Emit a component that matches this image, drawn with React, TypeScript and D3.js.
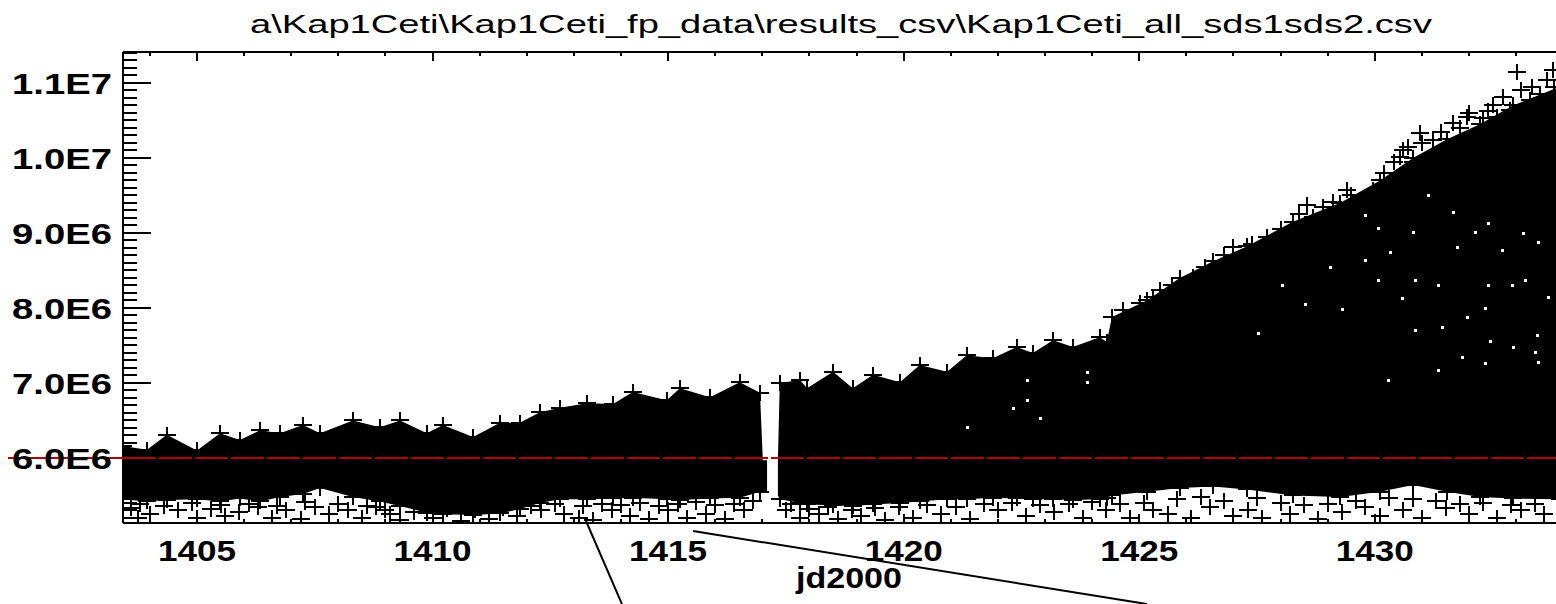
import React, { useEffect, useRef } from 'react';
import * as d3 from 'd3';

const W = 1556;
const H = 604;

const title = 'a\\Kap1Ceti\\Kap1Ceti_fp_data\\results_csv\\Kap1Ceti_all_sds1sds2.csv';
const xLabel = 'jd2000';

// all flux values in units of 1e6
const xTicks = [1405, 1410, 1415, 1420, 1425, 1430];
const yTicks = [6, 7, 8, 9, 10, 11];
const yTickLabels = ['6.0E6', '7.0E6', '8.0E6', '9.0E6', '1.0E7', '1.1E7'];
const refLevel = 6.0;

// envelope of the dense cloud, before the gap near jd 1417.2
const leftJd = [1403.43, 1403.94, 1404.36, 1405.0, 1405.49, 1405.91, 1406.34, 1406.76, 1407.25, 1407.61, 1408.31, 1408.88, 1409.31, 1409.88, 1410.22, 1410.86, 1411.43, 1411.85, 1412.28, 1412.7, 1413.28, 1413.83, 1414.25, 1414.97, 1415.25, 1415.89, 1416.52, 1416.95, 1417.01, 1417.1];
const leftHi = [6.16, 6.11, 6.31, 6.1, 6.33, 6.24, 6.37, 6.33, 6.44, 6.33, 6.5, 6.41, 6.5, 6.33, 6.44, 6.28, 6.47, 6.47, 6.61, 6.67, 6.73, 6.72, 6.88, 6.77, 6.93, 6.81, 7.01, 6.87, 5.97, 5.97];
const leftLo = [5.45, 5.42, 5.44, 5.45, 5.42, 5.46, 5.42, 5.48, 5.52, 5.6, 5.48, 5.42, 5.36, 5.27, 5.25, 5.24, 5.26, 5.32, 5.4, 5.45, 5.45, 5.46, 5.47, 5.45, 5.44, 5.46, 5.47, 5.55, 5.55, 5.55];

// envelope after the gap
const rightJd = [1417.33, 1417.37, 1417.8, 1417.95, 1418.5, 1418.92, 1419.35, 1419.92, 1420.34, 1420.92, 1421.34, 1421.89, 1422.4, 1422.74, 1423.17, 1423.59, 1424.16, 1424.31, 1424.42, 1425.16, 1425.86, 1426.56, 1427.28, 1428.26, 1429.26, 1430.11, 1430.81, 1431.53, 1432.23, 1432.93, 1433.93];
const rightHi = [5.97, 7.0, 7.04, 6.93, 7.15, 6.93, 7.11, 7.01, 7.24, 7.15, 7.37, 7.33, 7.48, 7.4, 7.57, 7.48, 7.61, 7.55, 7.88, 8.1, 8.4, 8.62, 8.82, 9.15, 9.4, 9.7, 10.0, 10.25, 10.45, 10.7, 10.95];
const rightLo = [5.5, 5.45, 5.4, 5.38, 5.37, 5.36, 5.38, 5.4, 5.42, 5.45, 5.45, 5.47, 5.46, 5.45, 5.45, 5.44, 5.45, 5.47, 5.5, 5.55, 5.6, 5.62, 5.58, 5.5, 5.48, 5.55, 5.64, 5.55, 5.48, 5.46, 5.45];

// low outliers near the bottom axis
const lowJd = [1403.6, 1403.75, 1404.0, 1404.6, 1405.0, 1405.3, 1405.6, 1405.9, 1406.3, 1406.6, 1406.9, 1407.2, 1407.5, 1407.8, 1408.2, 1408.5, 1408.8, 1409.1, 1409.3, 1410.0, 1410.6, 1411.2, 1411.8, 1412.3, 1412.8, 1413.1, 1413.4, 1413.8, 1414.2, 1414.6, 1415.0, 1415.4, 1415.8, 1416.2, 1416.6, 1417.5, 1417.8, 1418.2, 1418.6, 1419.1, 1419.6, 1420.2, 1420.8, 1421.4, 1422.0, 1422.6, 1423.2, 1423.8, 1424.3, 1424.8, 1425.3, 1425.6, 1426.1, 1426.5, 1427.0, 1427.3, 1427.6, 1428.2, 1428.8, 1429.3, 1429.8, 1430.1, 1430.6, 1431.0, 1431.5, 1432.0, 1432.6, 1433.1, 1433.6];
const lowVal = [5.33, 5.2, 5.25, 5.3, 5.2, 5.32, 5.22, 5.28, 5.35, 5.2, 5.3, 5.18, 5.35, 5.25, 5.3, 5.2, 5.35, 5.25, 5.17, 5.2, 5.16, 5.18, 5.22, 5.3, 5.25, 5.2, 5.17, 5.3, 5.22, 5.18, 5.3, 5.2, 5.25, 5.19, 5.3, 5.3, 5.2, 5.25, 5.18, 5.22, 5.17, 5.2, 5.25, 5.18, 5.3, 5.22, 5.28, 5.2, 5.3, 5.2, 5.3, 5.25, 5.2, 5.35, 5.22, 5.3, 5.2, 5.25, 5.18, 5.28, 5.35, 5.22, 5.3, 5.2, 5.33, 5.25, 5.2, 5.3, 5.25];

// second band of low points just under the cloud
const lowJd2 = [1403.8, 1404.3, 1404.9, 1405.5, 1406.1, 1406.7, 1407.3, 1408.0, 1408.6, 1409.0, 1409.6, 1410.3, 1410.9, 1411.5, 1412.1, 1412.6, 1413.2, 1413.6, 1414.0, 1414.4, 1414.8, 1415.2, 1415.6, 1416.0, 1416.4, 1416.8, 1417.6, 1418.0, 1418.4, 1418.9, 1419.4, 1419.9, 1420.5, 1421.1, 1421.7, 1422.3, 1422.9, 1423.5, 1424.0, 1424.6, 1425.1, 1425.8, 1426.3, 1426.8, 1427.5, 1428.0, 1428.5, 1429.0, 1429.6, 1430.3, 1430.8, 1431.3, 1431.8, 1432.3, 1432.9, 1433.4];
const lowVal2 = [5.38, 5.36, 5.4, 5.37, 5.39, 5.36, 5.41, 5.38, 5.36, 5.3, 5.28, 5.32, 5.3, 5.33, 5.36, 5.38, 5.36, 5.39, 5.37, 5.4, 5.36, 5.38, 5.41, 5.37, 5.39, 5.42, 5.38, 5.32, 5.34, 5.3, 5.33, 5.35, 5.37, 5.34, 5.38, 5.4, 5.37, 5.39, 5.41, 5.38, 5.4, 5.45, 5.48, 5.42, 5.46, 5.4, 5.37, 5.39, 5.42, 5.47, 5.45, 5.42, 5.38, 5.4, 5.37, 5.39];

// scattered high points on the rising edge
const highJd = [1424.65, 1425.01, 1425.44, 1426.14, 1426.99, 1427.71, 1428.56, 1428.68, 1429.11, 1429.41, 1429.96, 1430.53, 1430.59, 1430.81, 1430.95, 1431.23, 1431.66, 1431.95, 1432.29, 1432.5, 1432.72, 1432.87, 1433.01, 1433.29, 1433.33, 1433.65, 1433.78];
const highVal = [7.97, 8.07, 8.24, 8.41, 8.81, 8.95, 9.37, 9.21, 9.41, 9.57, 9.57, 10.01, 10.11, 9.95, 10.33, 10.24, 10.47, 10.55, 10.53, 10.71, 10.81, 10.64, 11.15, 10.77, 10.95, 11.04, 11.17];

// denser fringe just above the solid part of the rising edge
const highJd2 = [1425.3, 1425.7, 1426.4, 1426.8, 1427.4, 1428.0, 1428.4, 1428.9, 1429.5, 1429.8, 1430.2, 1430.4, 1430.7, 1431.0, 1431.4, 1431.8, 1432.0, 1432.4, 1432.6, 1433.1, 1433.5, 1433.8];
const highVal2 = [8.15, 8.3, 8.55, 8.7, 8.85, 9.05, 9.25, 9.35, 9.5, 9.45, 9.8, 9.95, 10.15, 10.2, 10.35, 10.4, 10.6, 10.62, 10.55, 10.9, 10.85, 10.95];

// empty spots inside the cloud
const holeJd = [1429.79, 1430.06, 1430.32, 1430.81, 1431.12, 1431.66, 1432.12, 1432.4, 1431.74, 1432.7, 1433.14, 1433.46, 1430.06, 1430.85, 1431.34, 1432.4, 1432.91, 1433.18, 1430.57, 1432.33, 1431.95, 1430.85, 1431.42, 1427.52, 1428.51, 1429.3, 1428.03, 1429.79, 1429.04, 1433.67, 1433.44, 1431.85, 1432.33, 1431.34, 1430.28, 1433.4, 1433.46, 1432.93, 1432.44, 1423.89, 1423.89, 1421.34, 1422.32, 1422.61, 1422.61, 1422.89];
const holeVal = [9.24, 9.07, 8.75, 9.01, 9.51, 9.28, 9.01, 9.13, 8.81, 8.77, 9.0, 8.88, 8.37, 8.37, 8.31, 8.31, 8.31, 8.37, 8.13, 8.0, 7.88, 7.71, 7.75, 7.67, 8.05, 7.99, 8.31, 8.64, 8.55, 8.15, 7.64, 7.35, 7.27, 7.17, 7.04, 7.41, 7.28, 7.48, 7.56, 7.15, 7.01, 6.41, 6.67, 7.04, 6.77, 6.53];

// hand-drawn pointer lines below the plot
const pointerFrom = [[1413.23, 5.2], [1415.53, 5.027]];
const pointerTo = [[1414.02, 4.053], [1425.16, 4.053]];

const FONT = '"Liberation Sans", Arial, sans-serif';

const App = () => {
  const svgRef = useRef(null);

  useEffect(() => {
    const svg = d3.select(svgRef.current);
    svg.selectAll('*').remove();

    const x = d3.scaleLinear().domain([1403.43, 1433.93]).range([123, 1560]);
    const y = d3.scaleLinear().domain([5.1333, 11.413]).range([523, 52]);
    const [x0, x1] = x.range();
    const [yb, yt] = y.range();

    svg.append('rect').attr('width', W).attr('height', H).attr('fill', '#fff');

    svg.append('defs').append('clipPath').attr('id', 'plotClip')
      .append('rect').attr('x', x0).attr('y', yt).attr('width', x1 - x0).attr('height', yb - yt);

    const plot = svg.append('g').attr('clip-path', 'url(#plotClip)');

    const area = d3.area()
      .x((d) => x(d[0]))
      .y0((d) => y(d[2]))
      .y1((d) => y(d[1]));

    const left = leftJd.map((j, i) => [j, leftHi[i], leftLo[i]]);
    const right = rightJd.map((j, i) => [j, rightHi[i], rightLo[i]]);

    plot.selectAll('.cloud')
      .data([left, right])
      .join('path')
      .attr('class', 'cloud')
      .attr('d', area)
      .attr('fill', '#000');

    const plus = (cx, cy) => `M${cx - 9},${cy}h18M${cx},${cy - 8}v16`;

    const pts = [];
    left.slice(0, -2).forEach((d) => { pts.push([d[0], d[1]]); pts.push([d[0], d[2]]); });
    right.slice(1).forEach((d) => { pts.push([d[0], d[1]]); pts.push([d[0], d[2]]); });
    lowJd.forEach((j, i) => pts.push([j, lowVal[i]]));
    lowJd2.forEach((j, i) => pts.push([j, lowVal2[i]]));
    highJd.forEach((j, i) => pts.push([j, highVal[i]]));
    highJd2.forEach((j, i) => pts.push([j, highVal2[i]]));

    plot.append('path')
      .attr('d', pts.map((p) => plus(Math.round(x(p[0])), Math.round(y(p[1])))).join(''))
      .attr('stroke', '#000')
      .attr('stroke-width', 2)
      .attr('fill', 'none')
      .attr('shape-rendering', 'crispEdges');

    plot.selectAll('.hole')
      .data(holeJd.map((j, i) => [j, holeVal[i]]))
      .join('rect')
      .attr('class', 'hole')
      .attr('x', (d) => Math.round(x(d[0])) - 1)
      .attr('y', (d) => Math.round(y(d[1])) - 1)
      .attr('width', 3)
      .attr('height', 3)
      .attr('fill', '#fff');

    // frame
    const axis = svg.append('g').attr('stroke', '#000').attr('stroke-width', 2).attr('shape-rendering', 'crispEdges');
    axis.append('line').attr('x1', x0).attr('x2', x0).attr('y1', yt).attr('y2', yb);
    axis.append('line').attr('x1', x0).attr('x2', x1).attr('y1', yt).attr('y2', yt);
    axis.append('line').attr('x1', x0).attr('x2', x1).attr('y1', yb).attr('y2', yb);

    // y ticks
    const yMinor = d3.range(52, 115).map((v) => v / 10);
    axis.selectAll('.yminor').data(yMinor).join('line')
      .attr('x1', x0).attr('x2', x0 + 14)
      .attr('y1', (d) => Math.round(y(d))).attr('y2', (d) => Math.round(y(d)));
    axis.selectAll('.ymajor').data(yTicks).join('line')
      .attr('x1', x0).attr('x2', x0 + 28)
      .attr('y1', (d) => Math.round(y(d))).attr('y2', (d) => Math.round(y(d)));

    // x ticks, top and bottom
    const xMinor = d3.range(1404, 1434);
    axis.selectAll('.xminor').data(xMinor).join('line')
      .attr('x1', (d) => Math.round(x(d))).attr('x2', (d) => Math.round(x(d)))
      .attr('y1', yt).attr('y2', (d) => yt + (d % 5 === 0 ? 9 : 4));
    axis.selectAll('.xminorb').data(xMinor).join('line')
      .attr('x1', (d) => Math.round(x(d))).attr('x2', (d) => Math.round(x(d)))
      .attr('y1', yb).attr('y2', (d) => yb - (d % 5 === 0 ? 9 : 4));

    // reference line
    svg.append('line')
      .attr('x1', 8).attr('x2', x0)
      .attr('y1', y(refLevel)).attr('y2', y(refLevel))
      .attr('stroke', '#b00000').attr('stroke-width', 2);
    svg.append('line')
      .attr('x1', x0).attr('x2', W)
      .attr('y1', y(refLevel)).attr('y2', y(refLevel))
      .attr('stroke', '#b00000').attr('stroke-width', 2)
      .attr('stroke-dasharray', '33 3');

    // labels
    svg.selectAll('.ylab').data(yTicks).join('text')
      .attr('x', 112)
      .attr('y', (d) => y(d) + 11)
      .attr('text-anchor', 'end')
      .attr('font-family', FONT)
      .attr('font-weight', 'bold')
      .attr('font-size', 30)
      .attr('textLength', 100)
      .attr('lengthAdjust', 'spacingAndGlyphs')
      .attr('fill', '#000')
      .text((d, i) => yTickLabels[i]);

    svg.selectAll('.xlab').data(xTicks).join('text')
      .attr('x', (d) => x(d))
      .attr('y', 561)
      .attr('text-anchor', 'middle')
      .attr('font-family', FONT)
      .attr('font-weight', 'bold')
      .attr('font-size', 30)
      .attr('textLength', 78)
      .attr('lengthAdjust', 'spacingAndGlyphs')
      .attr('fill', '#000')
      .text((d) => d);

    svg.append('text')
      .attr('x', 849).attr('y', 588)
      .attr('text-anchor', 'middle')
      .attr('font-family', FONT)
      .attr('font-weight', 'bold')
      .attr('font-size', 30)
      .attr('textLength', 106)
      .attr('lengthAdjust', 'spacingAndGlyphs')
      .text(xLabel);

    svg.append('text')
      .attr('x', 841).attr('y', 33)
      .attr('text-anchor', 'middle')
      .attr('font-family', FONT)
      .attr('font-size', 26)
      .attr('textLength', 1182)
      .attr('lengthAdjust', 'spacingAndGlyphs')
      .text(title);

    // pointer lines
    svg.selectAll('.pointer').data(pointerFrom).join('line')
      .attr('x1', (d) => x(d[0])).attr('y1', (d) => y(d[1]))
      .attr('x2', (d, i) => x(pointerTo[i][0])).attr('y2', (d, i) => y(pointerTo[i][1]))
      .attr('stroke', '#000').attr('stroke-width', 2);
  }, []);

  return (
    <svg
      ref={svgRef}
      width={W}
      height={H}
      style={{ position: 'absolute', left: 0, top: 0, display: 'block' }}
    />
  );
};

export default App;
